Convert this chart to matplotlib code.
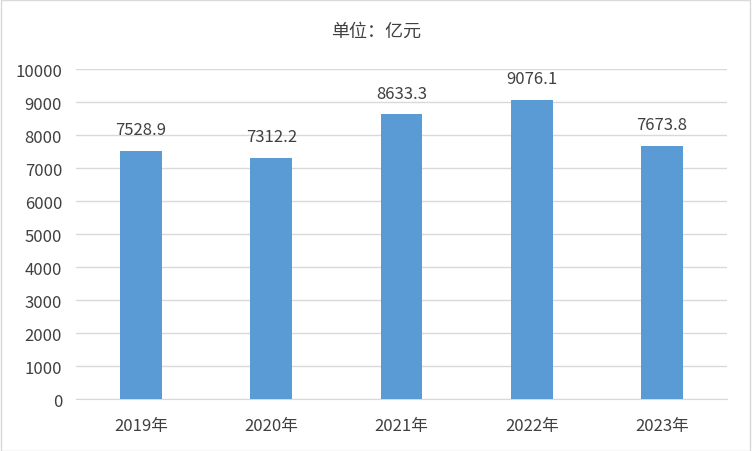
import matplotlib.pyplot as plt

plt.rcParams['font.family'] = ['Noto Sans CJK SC', 'DejaVu Sans']

years = ['2019年', '2020年', '2021年', '2022年', '2023年']
values = [7528.9, 7312.2, 8633.3, 9076.1, 7673.8]
yticks = [0, 1000, 2000, 3000, 4000, 5000, 6000, 7000, 8000, 9000, 10000]

fig = plt.figure(figsize=(7.52, 4.52), dpi=100)
ax = fig.add_axes([0.101, 0.115, 0.866, 0.73])

ax.bar(range(len(years)), values, width=0.32, color='#5B9BD5', zorder=3)
for i, v in enumerate(values):
    ax.text(i, v + 380, f'{v:.1f}', ha='center', va='bottom', fontsize=12, color='#404040')

ax.set_xlim(-0.5, len(years) - 0.5)
ax.set_ylim(0, 10000)
ax.set_yticks(yticks)
ax.set_xticks(range(len(years)))
ax.set_xticklabels(years)
ax.tick_params(axis='both', length=0, labelsize=12, colors='#404040')
ax.tick_params(axis='y', pad=10)
ax.tick_params(axis='x', pad=13)
ax.grid(axis='y', color='#D9D9D9', linewidth=1, zorder=0)
for s in ['top', 'right', 'left']:
    ax.spines[s].set_visible(False)
ax.spines['bottom'].set_color('#D9D9D9')

fig.text(0.5, 0.93, '单位：亿元', ha='center', va='center', fontsize=13, color='#404040')

border = plt.Rectangle((0.001, 0.001), 0.997, 0.997, transform=fig.transFigure,
                       fill=False, edgecolor='#D9D9D9', linewidth=1)
fig.patches.append(border)

fig.savefig('out.png', dpi=100)
